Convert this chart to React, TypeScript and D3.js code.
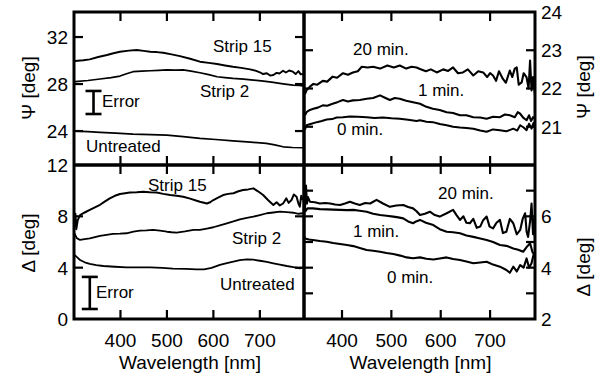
import React from 'react';
import * as d3 from 'd3';

// wavelength [nm], value [deg]
const psiStrip15: [number, number][] = [
  [302, 29.96], [320, 30.02], [334, 30.1], [352, 30.3], [371, 30.47], [385, 30.62], [399, 30.75],
  [418, 30.84], [435, 30.9], [450, 30.82], [464, 30.75], [478, 30.72], [492, 30.66], [510, 30.52],
  [528, 30.38], [550, 30.15], [571, 29.9], [590, 29.8], [608, 29.7], [625, 29.58], [642, 29.47],
  [660, 29.38], [679, 29.25], [692, 29.12], [700, 29.0], [707, 28.85], [715, 28.92], [722, 28.72],
  [729, 28.77], [736, 28.95], [742, 28.9], [750, 29.13], [756, 28.98], [763, 29.15], [771, 29.05],
  [777, 28.85], [783, 29.1], [788, 28.82], [793, 28.85],
];
const psiStrip2: [number, number][] = [
  [302, 28.2], [330, 28.3], [356, 28.43], [380, 28.55], [399, 28.68], [413, 28.88], [427, 29.05],
  [446, 29.1], [464, 29.13], [482, 29.17], [500, 29.2], [518, 29.18], [535, 29.2], [552, 29.1],
  [571, 28.96], [590, 28.8], [608, 28.62], [625, 28.55], [642, 28.48], [665, 28.42], [686, 28.34],
  [708, 28.25], [729, 28.14], [750, 28.02], [771, 27.9], [785, 27.88], [793, 27.83],
];
const psiUntreated: [number, number][] = [
  [302, 24.0], [330, 23.95], [356, 23.89], [390, 23.82], [427, 23.74], [465, 23.7], [500, 23.66],
  [535, 23.53], [571, 23.38], [605, 23.28], [642, 23.17], [680, 23.06], [714, 22.95], [732, 22.82],
  [750, 22.66], [770, 22.6], [793, 22.58],
];

const psi20min: [number, number][] = [
  [325, 21.85], [328, 21.95], [335, 22.05], [342, 22.12], [350, 22.1], [361, 22.2], [370, 22.18],
  [381, 22.31], [390, 22.28], [402, 22.4], [412, 22.36], [422, 22.42], [432, 22.45], [440, 22.57],
  [452, 22.55], [463, 22.57], [477, 22.52], [492, 22.6], [505, 22.55], [517, 22.6], [530, 22.52],
  [541, 22.57], [551, 22.55], [558, 22.51], [570, 22.45], [580, 22.5], [592, 22.42], [605, 22.5],
  [615, 22.46], [625, 22.55], [635, 22.4], [645, 22.42], [655, 22.5], [666, 22.34], [676, 22.45],
  [686, 22.42], [694, 22.3], [700, 22.4], [706, 22.34], [712, 22.2], [718, 22.45], [726, 22.25],
  [732, 22.15], [740, 22.47], [745, 22.3], [750, 22.52], [754, 22.55], [758, 22.1], [764, 22.16],
  [768, 22.4], [774, 22.29], [778, 22.0], [781, 22.73], [784, 21.95], [787, 22.3], [791, 21.82],
];
const psi1min: [number, number][] = [
  [325, 21.3], [328, 21.38], [335, 21.44], [342, 21.47], [351, 21.5], [361, 21.56], [370, 21.55],
  [381, 21.6], [392, 21.65], [402, 21.7], [412, 21.66], [422, 21.69], [436, 21.7], [450, 21.73],
  [463, 21.75], [477, 21.82], [487, 21.76], [497, 21.7], [507, 21.75], [517, 21.73], [530, 21.68],
  [544, 21.64], [558, 21.6], [571, 21.52], [584, 21.47], [598, 21.44], [612, 21.38], [625, 21.36],
  [639, 21.3], [652, 21.3], [666, 21.25], [680, 21.24], [693, 21.21], [706, 21.26], [720, 21.25],
  [730, 21.32], [740, 21.3], [750, 21.25], [756, 21.38], [761, 21.34], [767, 21.24], [774, 21.17],
  [779, 21.3], [783, 21.15], [787, 21.25], [791, 21.2],
];
const psi0min: [number, number][] = [
  [325, 20.92], [328, 21.04], [338, 21.08], [349, 21.12], [359, 21.15], [369, 21.19], [380, 21.2],
  [389, 21.24], [402, 21.25], [416, 21.27], [432, 21.26], [450, 21.25], [466, 21.23], [483, 21.24],
  [500, 21.22], [517, 21.21], [534, 21.18], [551, 21.15], [558, 21.17], [571, 21.13], [584, 21.12],
  [598, 21.07], [612, 21.04], [625, 21.0], [639, 20.98], [652, 20.97], [666, 20.95], [680, 20.9],
  [693, 20.87], [706, 20.93], [720, 20.91], [733, 20.88], [747, 20.95], [755, 20.9], [761, 21.04],
  [768, 20.98], [774, 20.91], [779, 21.08], [784, 20.95], [788, 21.1], [791, 20.96],
];

const deltaStrip15: [number, number][] = [
  [301, 7.2], [303, 8.2], [305, 7.0], [308, 7.7], [313, 8.1], [323, 8.3], [334, 8.5], [345, 8.7],
  [356, 8.9], [366, 9.15], [377, 9.4], [388, 9.6], [399, 9.74], [410, 9.8], [420, 9.85], [435, 9.88],
  [449, 9.92], [463, 9.88], [478, 9.85], [492, 9.75], [507, 9.66], [521, 9.6], [535, 9.53],
  [550, 9.38], [564, 9.22], [571, 9.14], [586, 9.0], [593, 9.1], [600, 9.27], [610, 9.45],
  [621, 9.66], [632, 9.75], [643, 9.8], [654, 9.95], [664, 10.05], [675, 10.1], [686, 10.18],
  [696, 9.95], [707, 9.66], [718, 9.25], [729, 8.88], [736, 9.1], [743, 8.85], [750, 9.0],
  [757, 9.4], [762, 9.05], [768, 9.27], [773, 9.7], [779, 9.53], [783, 9.0], [786, 8.75],
  [789, 9.6], [793, 9.27],
];
const deltaStrip2: [number, number][] = [
  [301, 6.68], [306, 6.3], [313, 6.16], [323, 6.22], [334, 6.29], [345, 6.38], [356, 6.47],
  [370, 6.55], [384, 6.63], [399, 6.65], [413, 6.68], [428, 6.8], [442, 6.88], [456, 6.9],
  [470, 6.94], [485, 6.88], [500, 6.8], [510, 6.76], [521, 6.73], [539, 6.82], [557, 6.94],
  [571, 6.94], [586, 7.05], [600, 7.15], [614, 7.3], [629, 7.46], [643, 7.6], [657, 7.77],
  [672, 7.88], [686, 7.97], [700, 8.1], [715, 8.24], [729, 8.3], [743, 8.36], [758, 8.32],
  [772, 8.28], [783, 8.2], [793, 8.24],
];
const deltaUntreated: [number, number][] = [
  [301, 4.99], [307, 4.8], [313, 4.6], [323, 4.42], [334, 4.29], [348, 4.2], [363, 4.13],
  [388, 4.07], [413, 4.03], [440, 4.03], [464, 4.03], [490, 3.98], [513, 3.92], [540, 3.9],
  [564, 3.87], [580, 3.86], [596, 3.98], [614, 4.21], [629, 4.35], [643, 4.47], [657, 4.58],
  [672, 4.65], [686, 4.62], [700, 4.54], [715, 4.45], [729, 4.34], [743, 4.24], [758, 4.13],
  [772, 4.05], [786, 3.95], [793, 4.0],
];

const delta20min: [number, number][] = [
  [324, 6.9], [325, 6.3], [327, 7.2], [329, 6.5], [331, 6.75], [335, 6.57], [345, 6.55], [355, 6.5],
  [366, 6.52], [376, 6.5], [386, 6.46], [396, 6.44], [406, 6.5], [416, 6.57], [426, 6.5],
  [436, 6.44], [447, 6.52], [457, 6.5], [470, 6.64], [483, 6.5], [497, 6.37], [510, 6.42],
  [524, 6.44], [534, 6.36], [544, 6.31], [551, 6.2], [558, 6.05], [568, 6.1], [578, 6.18],
  [588, 6.05], [598, 5.99], [612, 6.12], [625, 6.25], [632, 6.05], [639, 5.86], [646, 6.0],
  [652, 5.75], [659, 5.73], [666, 5.9], [673, 5.55], [680, 5.6], [686, 5.85], [693, 5.99],
  [699, 5.6], [706, 5.53], [713, 5.75], [720, 5.86], [726, 5.35], [733, 5.4], [740, 5.9],
  [747, 5.73], [754, 5.3], [761, 5.47], [766, 5.9], [771, 6.12], [774, 5.4], [777, 5.2],
  [781, 5.8], [784, 6.5], [787, 5.3], [789, 5.9], [791, 5.08],
];
const delta1min: [number, number][] = [
  [324, 6.45], [326, 6.2], [330, 6.31], [341, 6.31], [355, 6.28], [369, 6.27], [382, 6.26],
  [396, 6.25], [410, 6.24], [423, 6.25], [436, 6.22], [450, 6.18], [463, 6.1], [477, 6.05],
  [490, 6.02], [504, 5.99], [514, 5.96], [524, 5.92], [534, 5.8], [544, 5.73], [550, 5.8],
  [558, 5.86], [570, 5.75], [585, 5.66], [598, 5.5], [612, 5.4], [625, 5.38], [639, 5.34],
  [652, 5.25], [666, 5.2], [680, 5.14], [693, 5.08], [706, 5.0], [720, 4.88], [733, 4.85],
  [747, 4.75], [757, 4.7], [767, 4.62], [774, 4.8], [781, 4.95], [786, 4.6], [791, 4.49],
];
const delta0min: [number, number][] = [
  [324, 5.2], [325, 5.14], [333, 5.1], [341, 5.08], [355, 5.04], [369, 5.01], [382, 4.96],
  [396, 4.92], [410, 4.88], [423, 4.84], [436, 4.77], [450, 4.69], [463, 4.66], [477, 4.62],
  [490, 4.57], [504, 4.53], [518, 4.47], [531, 4.4], [544, 4.37], [558, 4.4], [571, 4.35],
  [585, 4.32], [598, 4.36], [612, 4.4], [625, 4.34], [639, 4.3], [652, 4.24], [666, 4.17],
  [680, 4.2], [693, 4.23], [706, 4.12], [720, 4.04], [733, 3.91], [740, 3.8], [747, 4.04],
  [754, 3.85], [761, 4.1], [768, 4.0], [774, 4.36], [779, 4.0], [784, 4.17], [788, 4.5], [791, 4.56],
];

const xTicks = [400, 500, 600, 700];
const psiLeftTicks = [24, 28, 32];
const psiRightTicks = [21, 22, 23];
const psiRightLabels = [21, 22, 23, 24];
const deltaLeftTicks = [4, 8];
const deltaLeftLabels = [0, 4, 8, 12];
const deltaRightTicks = [3, 4, 5, 6, 7];
const deltaRightLabels = [2, 4, 6];

// error bars: [wavelength, centre, half-height]
const psiError = [342, 26.43, 0.98];
const deltaError = [334, 2.03, 1.25];

const FONT = '"Liberation Sans", Arial, Helvetica, sans-serif';

const W = 598;
const H = 380;
const xL0 = 74;
const xMid = 304;
const xR1 = 535;
const yTop = 12;
const yMid = 165;
const yBot = 319;
const TICK = 9;

const xLeft = d3.scaleLinear().domain([300, 795]).range([xL0, xMid]);
const xRight = d3.scaleLinear().domain([323, 791]).range([xMid, xR1]);
const yPsiL = d3.scaleLinear().domain([21.11, 34.13]).range([yMid, yTop]);
const yPsiR = d3.scaleLinear().domain([20, 24]).range([yMid, yTop]);
const yDelL = d3.scaleLinear().domain([0, 12]).range([yBot, yMid]);
const yDelR = d3.scaleLinear().domain([2, 8]).range([yBot, yMid]);

const Curve = ({ data, x, y, w = 1.6 }: any) => {
  const line = d3.line<[number, number]>().x(d => x(d[0])).y(d => y(d[1]));
  return <path d={line(data) || ''} fill="none" stroke="#000" strokeWidth={w} strokeLinejoin="round" />;
};

const ErrorBar = ({ e, x, y }: any) => {
  const cx = x(e[0]);
  const y1 = y(e[1] + e[2]);
  const y2 = y(e[1] - e[2]);
  return (
    <g stroke="#000" strokeWidth={2.6}>
      <line x1={cx} x2={cx} y1={y1} y2={y2} />
      <line x1={cx - 8} x2={cx + 8} y1={y1} y2={y1} />
      <line x1={cx - 8} x2={cx + 8} y1={y2} y2={y2} />
    </g>
  );
};

const App = () => {
  const tickLines: JSX.Element[] = [];
  const ts = { stroke: '#000', strokeWidth: 2.2 };
  // x ticks, inward on top, middle and bottom borders
  xTicks.forEach(t => {
    const a = xLeft(t);
    const b = xRight(t);
    tickLines.push(<line key={'xt1' + t} x1={a} x2={a} y1={yTop} y2={yTop + TICK} {...ts} />);
    tickLines.push(<line key={'xt2' + t} x1={a} x2={a} y1={yMid} y2={yMid - TICK} {...ts} />);
    tickLines.push(<line key={'xt3' + t} x1={a} x2={a} y1={yMid} y2={yMid + TICK} {...ts} />);
    tickLines.push(<line key={'xt4' + t} x1={a} x2={a} y1={yBot} y2={yBot - TICK} {...ts} />);
    tickLines.push(<line key={'xr1' + t} x1={b} x2={b} y1={yTop} y2={yTop + TICK} {...ts} />);
    tickLines.push(<line key={'xr2' + t} x1={b} x2={b} y1={yMid} y2={yMid - TICK} {...ts} />);
    tickLines.push(<line key={'xr3' + t} x1={b} x2={b} y1={yMid} y2={yMid + TICK} {...ts} />);
    tickLines.push(<line key={'xr4' + t} x1={b} x2={b} y1={yBot} y2={yBot - TICK} {...ts} />);
  });
  const yTickPair = (key: string, yy: number, xa: number, xb: number) => {
    tickLines.push(<line key={key + 'a'} x1={xa} x2={xa + TICK} y1={yy} y2={yy} {...ts} />);
    tickLines.push(<line key={key + 'b'} x1={xb} x2={xb - TICK} y1={yy} y2={yy} {...ts} />);
  };
  psiLeftTicks.forEach(t => yTickPair('pl' + t, yPsiL(t), xL0, xMid));
  psiRightTicks.forEach(t => yTickPair('pr' + t, yPsiR(t), xMid, xR1));
  deltaLeftTicks.forEach(t => yTickPair('dl' + t, yDelL(t), xL0, xMid));
  deltaRightTicks.forEach(t => yTickPair('dr' + t, yDelR(t), xMid, xR1));

  const lbl = { fontFamily: FONT, fontSize: 19, fill: '#000' };
  const ann = { fontFamily: FONT, fontSize: 17, fill: '#000' };

  return (
    <svg width={W} height={H} style={{ position: 'absolute', left: 0, top: 0, background: '#fff' }}>
      <rect width={W} height={H} fill="#fff" />
      <defs>
        <clipPath id="cTL"><rect x={xL0} y={yTop} width={xMid - xL0} height={yMid - yTop} /></clipPath>
        <clipPath id="cTR"><rect x={xMid} y={yTop} width={xR1 - xMid} height={yMid - yTop} /></clipPath>
        <clipPath id="cBL"><rect x={xL0} y={yMid} width={xMid - xL0 + 2} height={yBot - yMid} /></clipPath>
        <clipPath id="cBR"><rect x={xMid - 2} y={yMid} width={xR1 - xMid + 2} height={yBot - yMid} /></clipPath>
      </defs>

      <g clipPath="url(#cTL)">
        <Curve data={psiStrip15} x={xLeft} y={yPsiL} w={1.9} />
        <Curve data={psiStrip2} x={xLeft} y={yPsiL} w={1.7} />
        <Curve data={psiUntreated} x={xLeft} y={yPsiL} w={1.7} />
      </g>
      <g clipPath="url(#cTR)">
        <Curve data={psi20min} x={xRight} y={yPsiR} w={2.1} />
        <Curve data={psi1min} x={xRight} y={yPsiR} w={2.1} />
        <Curve data={psi0min} x={xRight} y={yPsiR} w={2} />
      </g>
      <g clipPath="url(#cBL)">
        <Curve data={deltaStrip15} x={xLeft} y={yDelL} w={2} />
        <Curve data={deltaStrip2} x={xLeft} y={yDelL} w={1.8} />
        <Curve data={deltaUntreated} x={xLeft} y={yDelL} w={1.8} />
      </g>
      <g clipPath="url(#cBR)">
        <Curve data={delta20min} x={xRight} y={yDelR} w={2.1} />
        <Curve data={delta1min} x={xRight} y={yDelR} w={2.1} />
        <Curve data={delta0min} x={xRight} y={yDelR} w={2.1} />
      </g>

      <ErrorBar e={psiError} x={xLeft} y={yPsiL} />
      <ErrorBar e={deltaError} x={xLeft} y={yDelL} />

      {tickLines}

      <rect x={xL0} y={yTop} width={xR1 - xL0} height={yBot - yTop} fill="none" stroke="#000" strokeWidth={3} />
      <line x1={xMid} x2={xMid} y1={yTop} y2={yBot} stroke="#000" strokeWidth={3.5} />
      <line x1={xL0} x2={xR1} y1={yMid} y2={yMid} stroke="#000" strokeWidth={3.5} />

      {psiLeftTicks.map(t => (
        <text key={'lpl' + t} x={68} y={yPsiL(t)} dy="0.36em" textAnchor="end" {...lbl}>{t}</text>
      ))}
      {deltaLeftLabels.map(t => (
        <text key={'ldl' + t} x={68} y={yDelL(t)} dy="0.36em" textAnchor="end" {...lbl}>{t}</text>
      ))}
      {psiRightLabels.map(t => (
        <text key={'lpr' + t} x={541} y={yPsiR(t)} dy="0.36em" textAnchor="start" {...lbl}>{t}</text>
      ))}
      {deltaRightLabels.map(t => (
        <text key={'ldr' + t} x={541} y={yDelR(t)} dy="0.36em" textAnchor="start" {...lbl}>{t}</text>
      ))}
      {xTicks.map(t => (
        <g key={'xl' + t}>
          <text x={xLeft(t)} y={347} textAnchor="middle" {...lbl}>{t}</text>
          <text x={xRight(t)} y={347} textAnchor="middle" {...lbl}>{t}</text>
        </g>
      ))}

      <text x={(xL0 + xMid) / 2 + 1} y={369} textAnchor="middle" {...lbl}>Wavelength [nm]</text>
      <text x={(xMid + xR1) / 2 + 1} y={369} textAnchor="middle" {...lbl}>Wavelength [nm]</text>

      <text transform="translate(35,88) rotate(-90)" textAnchor="middle" {...lbl}>Ψ [deg]</text>
      <text transform="translate(35,243) rotate(-90)" textAnchor="middle" {...lbl}>Δ [deg]</text>
      <text transform="translate(590,87) rotate(-90)" textAnchor="middle" {...lbl}>Ψ [deg]</text>
      <text transform="translate(590,267) rotate(-90)" textAnchor="middle" {...lbl}>Δ [deg]</text>

      <text x={213} y={52} {...ann}>Strip 15</text>
      <text x={200} y={97} {...ann}>Strip 2</text>
      <text x={102} y={107} {...ann}>Error</text>
      <text x={86} y={152} {...ann}>Untreated</text>

      <text x={353} y={55} {...ann}>20 min.</text>
      <text x={418} y={96} {...ann}>1 min.</text>
      <text x={337} y={135} {...ann}>0 min.</text>

      <text x={148} y={191} {...ann}>Strip 15</text>
      <text x={232} y={244} {...ann}>Strip 2</text>
      <text x={220} y={290} {...ann}>Untreated</text>
      <text x={96} y={298} {...ann}>Error</text>

      <text x={438} y={199} {...ann}>20 min.</text>
      <text x={353} y={237} {...ann}>1 min.</text>
      <text x={387} y={283} {...ann}>0 min.</text>
    </svg>
  );
};

export default App;
